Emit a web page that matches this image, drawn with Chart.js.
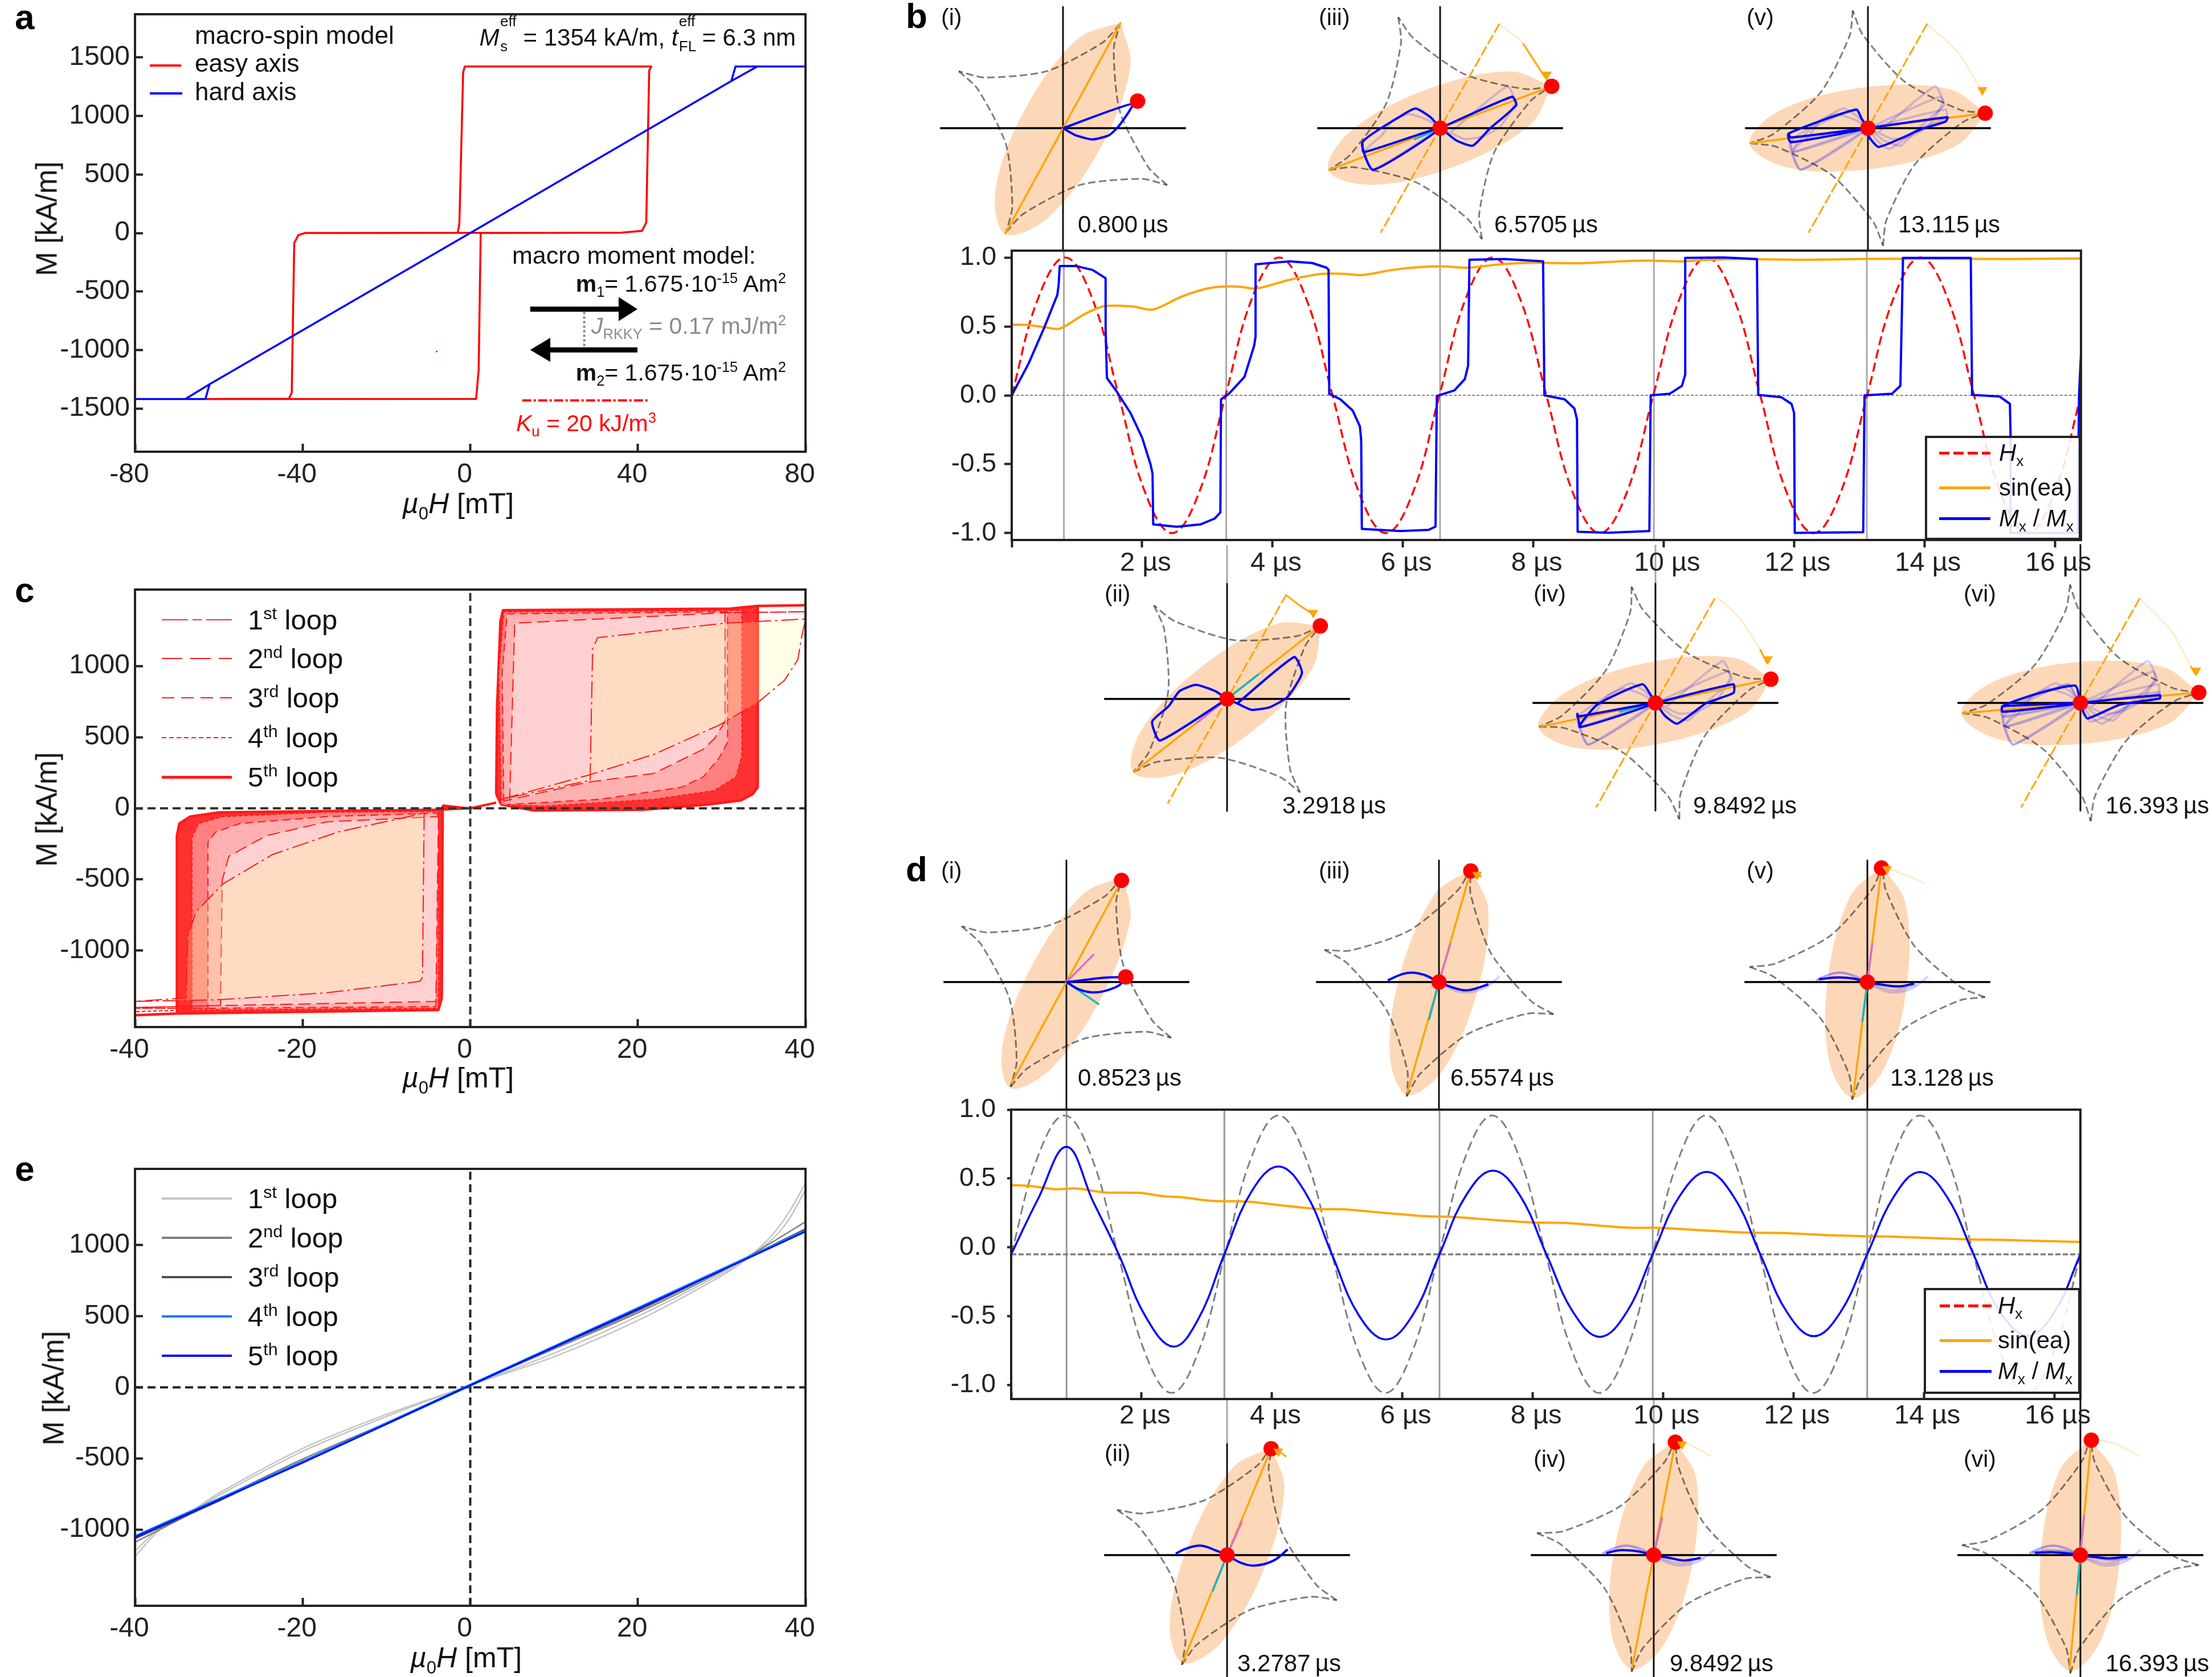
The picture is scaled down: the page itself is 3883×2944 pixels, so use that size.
<!DOCTYPE html>
<html lang="en">
<head>
<meta charset="UTF-8">
<title>Hysteresis loops and switching maps</title>
<script src="https://cdn.jsdelivr.net/npm/chart.js"></script>
<style>
  html, body { margin: 0; background: #fff; }
  #page { position: relative; width: 3883px; height: 2944px; overflow: hidden; background: #fff;
          font-family: "Liberation Sans", Arial, sans-serif; color: #111; }
  canvas { position: absolute; }
  .t { position: absolute; white-space: nowrap; line-height: 1; transform: translateY(-50%); }
  .t sup, .t sub { font-size: .62em; line-height: 0; }
  .ss { display: inline-block; position: relative; width: .72em; height: 1em; vertical-align: baseline; }
  .ss i, .ss b { position: absolute; left: .05em; font-size: .62em; font-weight: normal; font-style: normal; line-height: 1; }
  .ss i { top: -.55em; }
  .ss b { bottom: -.55em; }
  .sw { position: absolute; }
  .box { position: absolute; box-sizing: border-box; border: 4px solid #222; background: rgba(255,255,255,.88); }
</style>
</head>
<body>
<div id="page"></div>
<script>
// ---------- tick labels ----------
const aXTicks = [-80,-40,0,40,80];
const aYTicks = [-1500,-1000,-500,0,500,1000,1500];
const loopXTicks = [-40,-20,0,20,40];
const loopYTicks = [-1000,-500,0,500,1000];
const timeTicks = [0,2,4,6,8,10,12,14,16];
const ratioTicks = [-1,-.5,0,.5,1];

// ---------- panel a ----------
const aEasy = [[-3,0],[-2.6,77],[-1.7,1373],[-1.3,1423],[43.2,1423],[42.7,1390],[42,90],[41,18],[36,3],[-34,0],[-39.4,0],[-41,-18],[-42,-85],[-42.6,-1367],[-43.3,-1417],[-63,-1420],[1.4,-1418],[2,-1175],[2.5,0],[36,3]];
const aHard = [[-80,-1420],[-63.2,-1420],[-62.2,-1293],[-68,-1420],[-62.2,-1293],[0,0],[62.3,1299],[68.5,1423],[62.3,1299],[63.3,1423],[80,1423]];
const aSpeck = [[-8,-1013]];
const aArrowTop = [[14.3,-651],[35.4,-651]];
const aHeadTop = [[35.4,-548],[39.9,-651],[35.4,-754]];
const aArrowBottom = [[39.9,-999],[19.1,-999]];
const aHeadBottom = [[19.1,-896],[14.3,-999],[19.1,-1102]];
const aCoupling = [[27.2,-675],[27.2,-969]];
const aAnisotropy = [[12.4,-1432],[42.3,-1432]];

// ---------- panel c, one outline per lobe ----------
const loop1Right = [[14.3,197],[14.6,1119],[15.2,1199],[30.4,1301],[40,1330],[39.5,1192],[39.1,1046],[37.5,900],[34.3,743],[29.7,585],[21.9,379],[14.1,233],[3.7,63],[14.3,197]];
const loop2Right = [[4.7,51],[5.3,1301],[30.4,1374],[40,1381],[30.4,1374],[30.4,609],[29.1,488],[27.8,415],[21.9,245],[14.1,184],[4,51]];
const loop3Right = [[4,46],[3.8,949],[4.4,1366],[30.7,1381],[30.7,464],[29.7,354],[27.8,221],[25.2,148],[15.4,63],[4.4,27]];
const loop4Right = [[3.7,51],[3.4,949],[4,1381],[32.4,1391],[32.4,366],[31.7,221],[29.1,124],[21.9,63],[8.9,15],[3.7,25]];
const loop5Right = [[3.1,99],[3.2,706],[3.6,1313],[3.9,1392],[31,1403],[34.3,1422],[40,1427],[34.3,1422],[34.3,148],[33.7,100],[32.3,56],[28.4,27],[20.6,-10],[7.6,-15],[3.7,27],[3.1,99]];
const loop1Left = [[-5.5,-34],[-5.7,-1187],[-6,-1216],[-17.1,-1296],[-30,-1345],[-40,-1357],[-33.9,-1332],[-33.7,-896],[-32.7,-726],[-29.5,-531],[-23.6,-325],[-15.8,-167],[-5.5,-34]];
const loop2Left = [[-3.8,-58],[-4.1,-1357],[-29.8,-1386],[-40,-1400],[-29.8,-1386],[-29.6,-507],[-28.8,-337],[-24.3,-192],[-17.1,-95],[-3.8,-58]];
const loop3Left = [[-3.9,-34],[-4.1,-1393],[-31.3,-1405],[-40,-1405],[-31.3,-1405],[-31.3,-240],[-30.4,-167],[-27.5,-107],[-17.1,-58],[-3.9,-34]];
const loop4Left = [[-3.8,-22],[-3.8,-1405],[-33.2,-1417],[-40,-1429],[-33.2,-1417],[-33.2,-204],[-32.4,-107],[-29.5,-58],[-17.1,-27],[-3.8,-22]];
const loop5Left = [[-3.3,20],[-3.4,-1332],[-3.8,-1417],[-35,-1442],[-40,-1454],[-35,-1442],[-35,-192],[-34.7,-107],[-33.4,-58],[-30,-29],[-4.1,-10],[-0.5,0],[-3.3,20]];
const loopCentre = [[-3.1,10],[0,0],[3.1,40]];

// ---------- panel e ----------
const eLoop1a = [[-40,-1190],[-37,-1000],[-34,-905],[-30,-760],[-20,-450],[-10,-205],[0,15],[10,215],[20,470],[30,785],[33,905],[36,1070],[38,1230],[40,1437]];
const eLoop1b = [[-40,-1150],[-37,-990],[-34,-900],[-30,-745],[-20,-430],[-10,-190],[0,15],[10,240],[20,500],[30,800],[33,910],[36,1040],[38,1180],[40,1390]];
const eLoop2a = [[-40,-1090],[-30,-790],[-20,-505],[-10,-250],[0,15],[10,270],[20,525],[30,815],[35,985],[40,1165]];
const eLoop3a = [[-40,-1065],[-30,-800],[-20,-520],[-10,-255],[0,15],[10,280],[20,540],[30,825],[40,1115]];
const eLoop4a = [[-40,-1050],[-20,-525],[0,15],[20,555],[40,1100]];
const eLoop5a = [[-40,-1055],[-20,-531],[0,15],[20,551],[40,1096]];

// ---------- time traces b and d ----------
const hxTime = [0,.41,.82,1.23,1.64,2.05,2.46,2.87,3.28,3.69,4.1,4.51,4.92,5.33,5.74,6.15,6.56,6.97,7.38,7.79,8.2,8.61,9.02,9.43,9.84,10.25,10.66,11.07,11.48,11.89,12.3,12.71,13.12,13.53,13.94,14.35,14.76,15.17,15.58,15.99,16.4];
const bHx = [0,.71,1,.71,0,-.71,-1,-.71,0,.71,1,.71,0,-.71,-1,-.71,0,.71,1,.71,0,-.71,-1,-.71,0,.71,1,.71,0,-.71,-1,-.71,0,.71,1,.71,0,-.71,-1,-.71,0];
const dHx = [-.05,.66,.958,.66,-.05,-.76,-1.056,-.76,-.05,.66,.958,.66,-.05,-.76,-1.056,-.76,-.05,.66,.958,.66,-.05,-.76,-1.056,-.76,-.05,.66,.958,.66,-.05,-.76,-1.056,-.76,-.05,.66,.958,.66,-.05,-.76,-1.056,-.76,-.05];
const bSinEaTime = [0,.26,.56,.74,1.12,1.42,1.85,2.17,2.59,2.96,3.2,3.51,3.75,4.25,4.74,5.1,5.38,5.84,6.27,6.64,7,7.44,7.93,8.7,9.46,9.87,10.28,10.72,11.23,12.05,13.12,14.2,15.33,16.4];
const bSinEa = [.513,.51,.49,.484,.59,.647,.645,.623,.714,.771,.789,.788,.775,.837,.881,.882,.873,.91,.931,.935,.926,.948,.962,.959,.975,.977,.972,.984,.989,.984,.99,.992,.989,.993];
const bMxTime = [0,.26,.5,.7,.72,.736,.99,1.24,1.44,1.44,1.46,1.61,1.82,2,2.13,2.16,2.17,2.53,2.9,3.11,3.2,3.21,3.33,3.57,3.72,3.74,3.74,4.25,4.61,4.83,4.86,4.87,5.04,5.23,5.34,5.36,5.37,5.96,6.39,6.5,6.52,6.79,6.95,7,7.02,7.56,8.15,8.17,8.48,8.63,8.67,8.68,9.15,9.78,9.8,10.09,10.28,10.33,10.33,10.92,11.43,11.45,11.8,11.96,12,12.01,13.06,13.08,13.5,13.63,13.67,14.71,14.73,15.15,15.31,15.32,15.32,16.35,16.37,16.4];
const bMx = [0,.232,.493,.73,.804,.938,.938,.91,.85,.477,.126,.028,-.127,-.307,-.503,-.569,-.936,-.954,-.936,-.895,-.85,-.029,.011,.134,.363,.428,.951,.972,.96,.926,.91,.011,-.029,-.111,-.225,-.324,-.969,-.985,-.977,-.953,-.005,.036,.118,.216,.984,.989,.972,0,-.029,-.095,-.176,-.99,-.997,-.985,0,.011,.069,.15,.997,1,.989,.003,-.013,-.062,-.127,-.998,-.993,0,.011,.069,.997,.997,.003,-.008,-.062,-.291,-.998,-.998,0,.3];
const dSinEaTime = [0,.27,.69,1,1.42,1.97,2.33,2.64,3.06,3.61,4.1,4.71,5.13,5.68,6.35,6.77,7.38,7.99,8.48,9.45,9.93,10.54,11.27,11.82,12.49,13.1,13.46,14.68,15.16,16.4];
const dSinEa = [.452,.447,.422,.428,.4,.396,.372,.363,.339,.333,.308,.279,.276,.253,.227,.222,.2,.181,.178,.144,.142,.126,.108,.105,.09,.081,.079,.059,.055,.04];
const dMxTime = [0,.41,.85,1.26,1.65,2.06,2.49,2.87,3.27,3.68,4.1,4.51,4.92,5.33,5.75,6.16,6.57,6.98,7.39,7.8,8.21,8.62,9.03,9.44,9.84,10.25,10.67,11.08,11.49,11.9,12.31,12.72,13.13,13.54,13.94,14.35,14.76,15.17,15.6,16,16.4];
const dMx = [-.05,.35,.73,.33,-.05,-.5,-.72,-.52,-.05,.4,.588,.4,-.05,-.49,-.668,-.49,-.05,.38,.558,.38,-.05,-.47,-.649,-.47,-.05,.37,.548,.37,-.05,-.47,-.644,-.47,-.05,.37,.547,.37,-.05,-.47,-.64,-.47,-.05];
const bMarkers = [.8,3.29,6.57,9.85,13.115];
const dMarkers = [.85,3.27,6.57,9.84,13.13];

const bEllipse = [
  [[41,75],[10.4,63.2],[-26.3,14.4],[-47.6,-42.8]],
  [[66.6,52],[34.4,53],[-17.9,22.9],[-59.7,-20.6]],
  [[79.1,29.7],[48.7,40.2],[-10.2,27.1],[-63.1,-1.8]],
  [[82.8,17],[54.4,32.1],[-5.8,28.4],[-62.6,8.1]],
  [[83.8,10.7],[56.6,27.9],[-3.7,28.8],[-61.9,12.8]],
  [[84.2,7.4],[57.8,25.7],[-2.5,28.9],[-61.3,15.2]]
];
const dEllipse = [
  [[40,75],[11.5,62],[-23.8,12.7],[-45.1,-44]],
  [[31.5,76.5],[4,61.7],[-25.9,10.7],[-40.6,-46.5]],
  [[22.5,80],[-3.1,61.9],[-26.9,7.6],[-34.9,-51.2]],
  [[15.3,81],[-8.6,60.9],[-27.5,5.2],[-30.3,-53.6]],
  [[10.5,82],[-12.2,60.5],[-27.8,3.6],[-27.1,-55.4]],
  [[7,82],[-14.8,59.7],[-27.9,2.4],[-24.7,-56.3]]
];
const bAstroid = [
  [[40.3,73.7],[27.7,60.4],[-11.8,40.3],[-55.8,35.9],[-73.7,40.3],[-60.4,27.7],[-40.3,-11.8],[-35.9,-55.8],[-40.3,-73.7]],
  [[66.2,51.7],[49.3,44.5],[5.1,41.7],[-37.1,55.1],[-51.7,66.2],[-44.5,49.3],[-41.7,5.1],[-55.1,-37.1],[-66.2,-51.7]],
  [[78.6,29.6],[60.3,27.7],[17.3,38.2],[-18.9,63.7],[-29.6,78.6],[-27.7,60.3],[-38.2,17.3],[-63.7,-18.9],[-78.6,-29.6]],
  [[82.3,16.9],[64,17.9],[23.1,35.1],[-8.7,65.8],[-16.9,82.3],[-17.9,64],[-35.1,23.1],[-65.8,-8.7],[-82.3,-16.9]],
  [[83.3,10.7],[65.1,13.1],[25.7,33.2],[-3.7,66.3],[-10.7,83.3],[-13.1,65.1],[-33.2,25.7],[-66.3,-3.7],[-83.3,-10.7]],
  [[83.7,7.3],[65.5,10.5],[27,32.2],[-1.1,66.3],[-7.3,83.7],[-10.5,65.5],[-32.2,27],[-66.3,-1.1],[-83.7,-7.3]]
];
const dAstroid = [
  [[39.5,74.1],[27,60.6],[-12.2,40.2],[-56.2,35.2],[-74.1,39.5],[-60.6,27],[-40.2,-12.2],[-35.2,-56.2],[-39.5,-74.1]],
  [[32,77.7],[20.9,63],[-16.2,38.8],[-59.4,29.5],[-77.7,32],[-63,20.9],[-38.8,-16.2],[-29.5,-59.4],[-32,-77.7]],
  [[22.8,81],[13.4,65.1],[-20.6,36.7],[-62.5,22.4],[-81,22.8],[-65.1,13.4],[-36.7,-20.6],[-22.4,-62.5],[-22.8,-81]],
  [[15.6,82.6],[7.7,66],[-23.7,34.7],[-64.2,16.9],[-82.6,15.6],[-66,7.7],[-34.7,-23.7],[-16.9,-64.2],[-15.6,-82.6]],
  [[10.7,83.3],[3.7,66.3],[-25.7,33.2],[-65.1,13.1],[-83.3,10.7],[-66.3,3.7],[-33.2,-25.7],[-13.1,-65.1],[-10.7,-83.3]],
  [[7.1,83.7],[.9,66.3],[-27.1,32.2],[-65.5,10.3],[-83.7,7.1],[-66.3,.9],[-32.2,-27.1],[-10.3,-65.5],[-7.1,-83.7]]
];
const bEaTip = [[41,75],[66,51.7],[79,29.7],[81.7,16.8],[83,10.6],[83.8,7.4]];
const dEaTip = [[39,72],[31.2,75.4],[22.5,78.7],[15.3,80],[10,80.8],[7.7,81.4]];
const bStartTip = [42,74];
const bRed = [[[52.8,19.2]],[[0,0],[66,51.7]],[[0,0],[79,29.7]],[[0,0],[81.7,16.8]],[[0,0],[83,10.6]],[[0,0],[83.8,7.4]]];
const dRed = [[[39,72],[42,3.6]],[[0,0],[31.2,75.4]],[[0,0],[22.5,78.7]],[[0,0],[15.3,80]],[[0,0],[10,80.8]],[[0,0],[7.7,81.4]]];
const bCyan = [[26.7,9.8],[22.5,17.6],[-18.4,-8],[-25.5,-6.3],null,null];
const bPink = [null,[-22,-17.4],null,null,null,null];
const dCyan = [[23.1,-15.9],[-10.2,-25.6],[-7.1,-26.9],null,[-3.6,-28.3],[-2.6,-28.3]];
const dPink = [[19.6,19.8],[10.7,24.2],[8.3,27.6],[6.1,26.9],[3.6,27.6],[2.6,28.3]];
const bBlue = [
  [[0,0],[8.9,-5],[20.8,-8],[32.6,-5],[39.7,1.7],[49.2,17.2],[0,0]],
  [[7.2,-3.2],[47.5,29.7],[53,18.3],[42.9,1.5],[30.1,-5.9],[17.4,-7.7],[7.2,-3.2],[0,0],[-8.2,5.5],[-22,10],[-33.7,5.5],[-41.4,-5.2],[-53,-16],[-47.5,-29.5],[0,0]],
  [[0,0],[51,22.3],[53.9,16.3],[35,-.5],[23.1,-12.4],[11.3,-8.6],[1.2,-.5],[0,0],[-6.5,7.5],[-17.2,13.9],[-27.3,8.9],[-55,-10],[-47.4,-29.5],[0,0],[-54,-17],[-55,-10]],
  [[0,0],[55.2,13.2],[55.2,7.1],[35.7,-.3],[15.3,-14.7],[6.6,-9],[1,-1],[0,0],[-2.6,4.4],[-9.2,13.2],[-40.9,-1],[-53.6,-17.1],[0,0],[-55.2,-9.7],[-55.2,-7.7],[-53.6,-17.1]],
  [[0,0],[56.3,7.8],[55.1,4.8],[38.5,-.5],[7.7,-13.3],[.6,-5.9],[0,0],[-4.2,6.2],[-8.3,13.2],[-56.3,-3.9],[-54.6,-10],[0,0],[-54.6,-6.6],[-56.3,-3.9]],
  [[0,0],[56.2,5.5],[56.2,3.1],[28,-1.2],[5.1,-11],[1.5,-5],[0,0],[-3.6,12.2],[-33.2,5.8],[-55.2,-2.3],[-55.2,-6.3],[0,0],[-55.2,-2.3]]
];
const dBlue = [
  [[0,0],[9.5,-5.4],[19.6,-7.4],[30.2,-5.4],[39.1,-.7],[37.4,3.4],[0,0]],
  [[-36.3,1.1],[-28.6,4.7],[-18.4,6.7],[-8.2,3.4],[0,0],[9.7,-5.4],[19.9,-7.4],[32.7,-4],[42.9,4]],
  [[-36.2,1.3],[-23.1,6.3],[-11.3,5.4],[0,0],[12.5,-4.7],[21.3,-5.7],[35,-1.6]],
  [[-33.7,1.3],[-24.5,3.4],[-11.7,2.7],[0,0],[11.2,-2],[21.4,-3.8],[33.2,-2]],
  [[-34.4,2],[-21.3,3.2],[-9.5,2.4],[0,0],[11.3,-2],[23.1,-3],[33.2,-1]],
  [[-32.2,1.6],[-20.4,2],[-10.2,1.3],[0,0],[10.2,-1.3],[20.4,-2.3],[33.2,-1.1]]
];
const bArcFaint = [null,null,[[42.7,73.5],[58.7,60],[73.5,37.2],[76,34]],[[43.4,75.1],[58.7,61],[74,38.1],[79,28]],[[42.1,73.5],[64,53.3],[78.9,29],[81,24]],[[42.4,73.8],[63.8,51.6],[76.6,28.7],[81.5,20]]];
const bArcSolid = [null,[[41.4,73.9],[50.6,66.8],[61,60]],[[58.7,60],[73.5,37.2],[76,34]],[[74,38.1],[79,28]],[[78.9,29],[81,24]],[[78,26],[81.5,20]]];
const dArcFaint = [null,null,null,[[40.9,70],[26,78],[18.9,81.4]],[[40.9,70],[23.1,77.4],[13,81]],[[41.9,70],[23,79.4],[10.2,82]]];
const dArcSolid = [null,[[41.9,69.7],[35.2,74.7]],[[30.2,74.7],[24.3,78]],null,null,null];
const bArrowTip = [null,[61,61],[75.5,38],[79.5,31],[81,27],[82,23]];
const dArrowTip = [null,[36.3,73.4],[27,76],[20,78.5],[14,80],null];
const bVertical = [[85.9,-87],[81.6,-79.3],[85.9,-87],[84.5,-76.3],[85.9,-87],[112,-76.3]];
const dVertical = [[86.1,-90],[78.7,-86],[86.1,-90],[78.7,-86],[86.1,-90],[110,-86]];
const bStub = [null,[81.6,109],null,[84.5,112],null,null];
const dStub = [null,[78.7,110],null,[78.7,110],null,null];
const bCentre = [[753.6,91],[870,495.5],[1021,91],[1173.4,498.4],[1324,91],[1474.7,498.4]];
const dCentre = [[756,696],[870,1102.6],[1020,696],[1172.4,1102.6],[1323.5,696],[1474.7,1102.6]];

const FONT = '"Liberation Sans", Arial, sans-serif';
const K = 2.4764;
const page = document.getElementById('page');

Chart.defaults.font.family = FONT;

function ds(points, color, width, extra) {
  return Object.assign({
    data: points.map(p => ({x: p[0], y: p[1]})),
    borderColor: color, borderWidth: width, pointRadius: 0,
    showLine: true, tension: 0, borderJoinStyle: 'round'
  }, extra || {});
}
function zip(xs, ys) { return xs.map((x, i) => [x, ys[i]]); }
function neg(list) { return list.map(p => [-p[0], -p[1]]); }

const framePlugin = {
  id: 'frame',
  afterDraw(chart) {
    const a = chart.chartArea, c = chart.ctx;
    c.save(); c.strokeStyle = '#222'; c.lineWidth = 4;
    c.strokeRect(a.left, a.top, a.right - a.left, a.bottom - a.top);
    c.restore();
  }
};

function axis(min, max, values, fmt, o) {
  return {
    type: 'linear', min, max,
    border: {display: false},
    grid: {drawOnChartArea: false, tickLength: o.tick, tickWidth: 4, tickColor: '#222'},
    ticks: {autoSkip: false, minRotation: 0, maxRotation: 0,
            callback: fmt, color: '#222', padding: o.pad, labelOffset: o.offset || 0,
            font: {family: FONT, size: o.size}},
    afterBuildTicks: s => { s.ticks = values.map(value => ({value})); },
    afterFit: o.fit
  };
}
const fitX = s => { s.height = 70; s.paddingLeft = 0; s.paddingRight = 0; };
const fitY = s => { s.width = 240; s.paddingTop = 0; s.paddingBottom = 0; };

function mainChart(box, xAxis, yAxis, sets) {
  const cv = document.createElement('canvas');
  cv.width = box.r - box.l + 300;
  cv.height = box.b - box.t + 100;
  cv.style.left = (box.l - 240) + 'px';
  cv.style.top = (box.t - 30) + 'px';
  page.appendChild(cv);
  new Chart(cv, {
    type: 'scatter',
    data: {datasets: sets.slice().reverse()},
    options: {
      responsive: false, animation: false, events: [], devicePixelRatio: 1,
      layout: {autoPadding: false, padding: {top: 30, right: 60, left: 0, bottom: 0}},
      plugins: {legend: {display: false}, tooltip: {enabled: false}},
      scales: {x: xAxis, y: yAxis}
    },
    plugins: [framePlugin]
  });
}

function insetChart(centre, sets) {
  const cv = document.createElement('canvas');
  cv.width = 496;
  cv.height = 570;
  cv.style.left = (centre[0] * K - 248) + 'px';
  cv.style.top = (centre[1] * K - 285) + 'px';
  page.appendChild(cv);
  new Chart(cv, {
    type: 'scatter',
    data: {datasets: sets.slice().reverse()},
    options: {
      responsive: false, animation: false, events: [], devicePixelRatio: 1,
      layout: {autoPadding: false},
      plugins: {legend: {display: false}, tooltip: {enabled: false}},
      scales: {x: {type: 'linear', display: false, min: -100, max: 100}, y: {type: 'linear', display: false, min: -115, max: 115}}
    }
  });
}

function buildInset(g, i) {
  const sets = [];
  const half = g.ellipse[i];
  const ring = half.concat(neg(half), [half[0]]);
  sets.push(ds(ring, 'rgba(0,0,0,0)', 0, {tension: .35, fill: 'shape', backgroundColor: '#fdd8b8'}));
  const ast = g.astroid[i];
  [ast.slice(0, 5), ast.slice(4), neg(ast.slice(0, 5)), neg(ast.slice(4))].forEach(arc => {
    sets.push(ds(arc, 'rgba(0,0,0,.5)', 3, {tension: .25, borderDash: [13, 6]}));
  });
  sets.push(ds([[-87, 0], [87, 0]], '#000', 3.5));
  if (g.stub[i]) sets.push(ds([[0, g.stub[i][0]], [0, g.stub[i][1]]], '#aaa', 3));
  sets.push(ds([[0, g.vertical[i][0]], [0, g.vertical[i][1]]], '#111', 3));
  for (let k = 1; k < i; k++) sets.push(ds(g.blue[k], 'rgba(0,0,255,.18)', 4, {tension: g.blueTension}));
  if (g.startTip && i > 0) sets.push(ds([g.startTip, [-g.startTip[0], -g.startTip[1]]], '#ffa500', 3, {borderDash: [18, 5]}));
  sets.push(ds([g.tip[i], [-g.tip[i][0], -g.tip[i][1]]], '#ffa500', 3.5));
  if (g.cyan[i]) sets.push(ds([[0, 0], g.cyan[i]], '#12b5c4', 3.5));
  if (g.pink[i]) sets.push(ds([[0, 0], g.pink[i]], '#d86ecc', 3.5));
  sets.push(ds(g.blue[i], '#0000ff', 4, {tension: g.blueTension}));
  if (g.arcFaint[i]) sets.push(ds(g.arcFaint[i], 'rgba(255,165,0,.22)', 3, {tension: .3}));
  if (g.arcSolid[i]) sets.push(ds(g.arcSolid[i], '#ffa500', 3, {tension: .3}));
  sets.push(ds(g.red[i], '#ff0000', 0, {showLine: false, pointRadius: 13.5, pointBackgroundColor: '#ff0000', pointBorderWidth: 0}));
  if (g.arrow[i]) sets.push(ds([g.arrow[i]], '#ffa500', 0, {showLine: false, pointStyle: 'triangle', pointRadius: 10, pointRotation: g.arrowRot, pointBackgroundColor: '#ffa500', pointBorderWidth: 0}));
  return sets;
}

const bGroup = {ellipse: bEllipse, astroid: bAstroid, stub: bStub, vertical: bVertical, blue: bBlue, blueTension: .18, startTip: bStartTip, tip: bEaTip, cyan: bCyan, pink: bPink, arcFaint: bArcFaint, arcSolid: bArcSolid, red: bRed, arrow: bArrowTip, arrowRot: 180};
const dGroup = {ellipse: dEllipse, astroid: dAstroid, stub: dStub, vertical: dVertical, blue: dBlue, blueTension: .4, startTip: null, tip: dEaTip, cyan: dCyan, pink: dPink, arcFaint: dArcFaint, arcSolid: dArcSolid, red: dRed, arrow: dArrowTip, arrowRot: -60};
bCentre.forEach((c, i) => insetChart(c, buildInset(bGroup, i)));
dCentre.forEach((c, i) => insetChart(c, buildInset(dGroup, i)));

// ---------- main axes ----------
const plain = v => String(v);
const oneDec = v => v.toFixed(1);
const micro = v => v === 0 ? '' : v + ' µs';
const inX = {tick: -14, pad: 26, size: 48, offset: -10, fit: fitX};
const inY = {tick: -14, pad: 23, size: 48, fit: fitY};
const outX = {tick: 13, pad: 0, size: 47, offset: 6, fit: fitX};
const outY = {tick: 13, pad: 14, size: 46, fit: fitY};
const dX = {tick: -12, pad: 14, size: 47, offset: 6, fit: fitX};
const dY = {tick: 7, pad: 20, size: 46, fit: fitY};

mainChart({l: 237, t: 25, r: 1414, b: 793}, axis(-80, 80, aXTicks, plain, inX), axis(-1870, 1870, aYTicks, plain, inY), [
  ds(aEasy, '#ff0000', 3.5),
  ds(aHard, '#0000ff', 3.5),
  ds(aSpeck, '#ff0000', 0, {showLine: false, pointRadius: 1.5, pointBackgroundColor: '#ff0000', pointBorderWidth: 0}),
  ds(aArrowTop, '#000', 9),
  ds(aHeadTop, '#000', 0, {fill: 'shape', backgroundColor: '#000'}),
  ds(aArrowBottom, '#000', 9),
  ds(aHeadBottom, '#000', 0, {fill: 'shape', backgroundColor: '#000'}),
  ds(aCoupling, '#888', 4, {borderDash: [4, 4]}),
  ds(aAnisotropy, '#ff0000', 4, {borderDash: [16, 4, 4, 4]})
]);

const loopStyles = [
  {fill: 'rgba(255,250,160,.25)', dash: [30, 7, 4, 7], width: 2},
  {fill: '#ffd0d0', dash: [22, 10], width: 2},
  {fill: '#ffb0b0', dash: [14, 8], width: 2},
  {fill: '#ff8080', dash: [6, 4], width: 2},
  {fill: '#ff3030', dash: [], width: 4.5}
];
const cSets = [];
[[loop5Right, 4], [loop5Left, 4], [loop4Right, 3], [loop4Left, 3], [loop3Right, 2], [loop3Left, 2], [loop2Right, 1], [loop2Left, 1], [loop1Right, 0], [loop1Left, 0]].forEach(e => {
  const s = loopStyles[e[1]];
  cSets.push(ds(e[0], '#ff1a1a', s.width, {fill: 'shape', backgroundColor: s.fill, borderDash: s.dash}));
});
cSets.push(ds(loopCentre, '#ff1a1a', 4));
cSets.push(ds([[-40, 0], [40, 0]], '#333', 4, {borderDash: [14, 8]}));
cSets.push(ds([[0, -1537], [0, 1537]], '#333', 4, {borderDash: [14, 8]}));
mainChart({l: 237, t: 1035, r: 1414, b: 1803}, axis(-40, 40, loopXTicks, plain, inX), axis(-1537, 1537, loopYTicks, plain, inY), cSets);

mainChart({l: 237, t: 2052, r: 1414, b: 2819}, axis(-40, 40, loopXTicks, plain, inX), axis(-1537, 1537, loopYTicks, plain, inY), [
  ds([[-40, 0], [40, 0]], '#222', 4, {borderDash: [14, 8]}),
  ds([[0, -1537], [0, 1537]], '#222', 4, {borderDash: [14, 8]}),
  ds(eLoop1a, '#c4c4c4', 2.5, {tension: .3}),
  ds(eLoop1b, '#c4c4c4', 2.5, {tension: .3}),
  ds(eLoop2a, '#808080', 2.5, {tension: .3}),
  ds(eLoop3a, '#505050', 2.5, {tension: .3}),
  ds(eLoop4a, '#0a78ff', 5),
  ds(eLoop5a, '#0000ff', 2.5)
]);

const bSets = bMarkers.map(t => ds([[t, -1.05], [t, 1.05]], '#aaa', 3));
bSets.push(ds([[0, 0], [16.4, 0]], '#888', 2, {borderDash: [5, 3]}));
bSets.push(ds(zip(hxTime, bHx), '#ff0000', 3.5, {tension: .4, borderDash: [16, 8]}));
bSets.push(ds(zip(bSinEaTime, bSinEa), '#ffa500', 4, {tension: .3}));
bSets.push(ds(zip(bMxTime, bMx), '#0000ff', 4));
mainChart({l: 1776, t: 440, r: 3653, b: 948}, axis(0, 16.4, timeTicks, micro, outX), axis(-1.05, 1.05, ratioTicks, oneDec, outY), bSets);

const dSets = dMarkers.map(t => ds([[t, -1.1], [t, 1]], '#999', 3));
dSets.push(ds([[0, -.05], [16.4, -.05]], '#808080', 3.5, {borderDash: [9, 4]}));
dSets.push(ds(zip(hxTime, dHx), '#808080', 3, {tension: .4, borderDash: [16, 8]}));
dSets.push(ds(zip(dSinEaTime, dSinEa), '#ffa500', 4, {tension: .3}));
dSets.push(ds(zip(dMxTime, dMx), '#0000ff', 3.5, {tension: .4}));
mainChart({l: 1775, t: 1948, r: 3652, b: 2456}, axis(0, 16.4, timeTicks, micro, dX), axis(-1.1, 1, ratioTicks, oneDec, dY), dSets);

// ---------- text ----------
function text(html, x, y, size, css) {
  const el = document.createElement('div');
  el.className = 't';
  el.innerHTML = html;
  el.style.left = x + 'px';
  el.style.top = y + 'px';
  el.style.fontSize = size + 'px';
  if (css) el.style.cssText += ';' + css;
  page.appendChild(el);
  return el;
}
function textRight(html, right, y, size, css) {
  const el = text(html, 0, y, size, css);
  el.style.left = 'auto';
  el.style.right = (3883 - right) + 'px';
  return el;
}
function swatch(x0, x1, y, height, bg) {
  const el = document.createElement('div');
  el.className = 'sw';
  el.style.cssText = `left:${x0}px;width:${x1 - x0}px;top:${y - height / 2}px;height:${height}px;background:${bg}`;
  page.appendChild(el);
}
function dashes(color, on, off) {
  return `repeating-linear-gradient(90deg,${color} 0 ${on}px,transparent ${on}px ${on + off}px)`;
}

[['a', 26, 30], ['b', 1590, 28], ['c', 26, 1036], ['d', 1590, 1526], ['e', 26, 2052]].forEach(p => {
  text(p[0], p[1], p[2], 62, 'font-weight:bold;color:#000');
});

const muH = '<i>µ</i><sub>0</sub><i>H</i> [mT]';
text(muH, 706, 884, 50);
text(muH, 706, 1892, 50);
text(muH, 720, 2910, 50);
[[82, 384], [82, 1421], [94, 2437]].forEach(p => {
  const el = text('M [kA/m]', p[0], p[1], 51);
  el.style.transform = 'translate(-50%,-50%) rotate(-90deg)';
});

text('macro-spin model', 342, 62, 44);
text('easy axis', 342, 111, 44);
text('hard axis', 342, 161, 44);
swatch(263, 318, 115, 4, '#ff0000');
swatch(263, 320, 164, 4, '#0000ff');
textRight('<i>M</i><span class="ss"><i>eff</i><b>s</b></span> = 1354 kA/m, <i>t</i><span class="ss"><i>eff</i><b>FL</b></span> = 6.3 nm', 1397, 62, 42);
text('macro moment model:', 899, 448, 43);
textRight('<b>m</b><sub>1</sub>= 1.675·10<sup>-15</sup> Am<sup>2</sup>', 1380, 498, 41);
textRight('<b>m</b><sub>2</sub>= 1.675·10<sup>-15</sup> Am<sup>2</sup>', 1380, 654, 41);
textRight('<i>J</i><sub>RKKY</sub> = 0.17 mJ/m<sup>2</sup>', 1380, 572, 41, 'color:#8c8c8c');
text('<i>K</i><sub>u</sub> = 20 kJ/m<sup>3</sup>', 906, 743, 41, 'color:#ff0000');

const ordinals = ['1<sup>st</sup> loop', '2<sup>nd</sup> loop', '3<sup>rd</sup> loop', '4<sup>th</sup> loop', '5<sup>th</sup> loop'];
const cRows = [1088, 1156, 1225, 1295, 1364];
const eRows = [2104, 2173, 2242, 2311, 2380];
const eColors = ['#c4c4c4', '#808080', '#505050', '#0a78ff', '#0000ff'];
const cPatterns = [
  'repeating-linear-gradient(90deg,#ff3030 0 46px,transparent 46px 54px,#ff3030 54px 70px,transparent 70px 78px)',
  dashes('#ff1a1a', 36, 14), dashes('#ff1a1a', 22, 12), dashes('#ff1a1a', 8, 5)
];
ordinals.forEach((t, i) => {
  text(t, 435, cRows[i], 49);
  swatch(284, 407, cRows[i], i === 4 ? 5 : 2.5, i === 4 ? '#ff1a1a' : cPatterns[i]);
  text(t, 435, eRows[i], 49);
  swatch(284, 407, eRows[i], 4, eColors[i]);
});

function legendBox(l, t, r, b, rows, x0, x1, tx, hxColor) {
  const el = document.createElement('div');
  el.className = 'box';
  el.style.cssText = `left:${l}px;top:${t}px;width:${r - l}px;height:${b - t}px`;
  page.appendChild(el);
  swatch(x0, x1, rows[0], 5, dashes(hxColor, 18, 7));
  swatch(x0, x1, rows[1], 5, '#ffa500');
  swatch(x0, x1, rows[2], 5, '#0000ff');
  text('<i>H</i><sub>x</sub>', tx, rows[0], 42);
  text('sin(ea)', tx, rows[1], 42);
  text('<i>M</i><sub>x</sub> / <i>M</i><sub>x</sub>', tx, rows[2], 42);
}
legendBox(3379, 765, 3653, 948, [795, 856, 910], 3404, 3494, 3509, '#ff0000');
legendBox(3377, 2261, 3652, 2447, [2292, 2353, 2407], 3405, 3496, 3507, '#ff0000');

const bTimes = ['0.800', '3.2918', '6.5705', '9.8492', '13.115', '16.393'];
const dTimes = ['0.8523', '3.2787', '6.5574', '9.8492', '13.128', '16.393'];
const bTimePos = [[1892, 394], [2251, 1414], [2623, 394], [2972, 1414], [3332, 394], [3696, 1414]];
const dTimePos = [[1892, 1892], [2172, 2920], [2546, 1892], [2931, 2920], [3318, 1892], [3696, 2920]];
const romans = ['(i)', '(ii)', '(iii)', '(iv)', '(v)', '(vi)'];
const bRomanPos = [[1652, 30], [1939, 1042], [2315, 30], [2692, 1042], [3066, 30], [3447, 1042]];
const dRomanPos = [[1652, 1528], [1939, 2551], [2315, 1528], [2692, 2561], [3066, 1528], [3447, 2561]];
romans.forEach((r, i) => {
  text(bTimes[i] + '&thinsp;µs', bTimePos[i][0], bTimePos[i][1], 42);
  text(dTimes[i] + '&thinsp;µs', dTimePos[i][0], dTimePos[i][1], 42);
  text(r, bRomanPos[i][0], bRomanPos[i][1], 41);
  text(r, dRomanPos[i][0], dRomanPos[i][1], 41);
});
</script>
</body>
</html>
